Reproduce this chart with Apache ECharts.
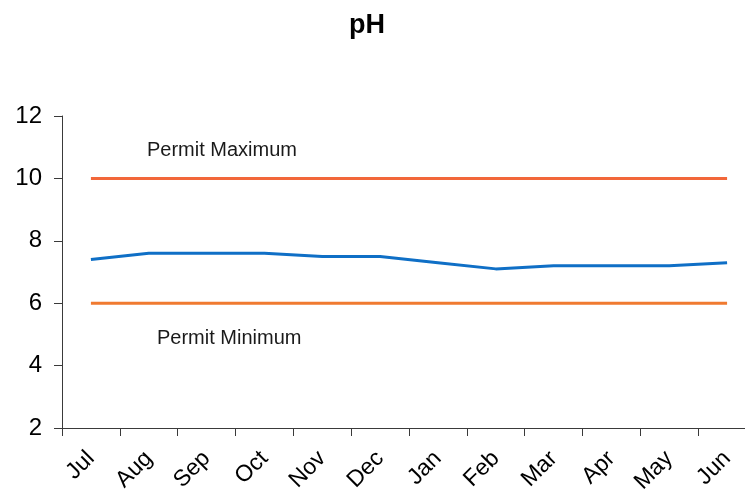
<!DOCTYPE html>
<html>
<head>
<meta charset="utf-8">
<script src="https://cdn.jsdelivr.net/npm/echarts@6/dist/echarts.min.js"></script>
<style>
  html, body { margin: 0; padding: 0; background: #ffffff; overflow: hidden; }
  /* the plot runs slightly past the right edge of the window */
  #chart { width: 757px; height: 498px; }
</style>
</head>
<body>
<div id="chart"></div>
<script>
// Monthly pH readings with permit limits
const months = ['Jul', 'Aug', 'Sep', 'Oct', 'Nov', 'Dec', 'Jan', 'Feb', 'Mar', 'Apr', 'May', 'Jun'];
const phValues = [7.4, 7.6, 7.6, 7.6, 7.5, 7.5, 7.3, 7.1, 7.2, 7.2, 7.2, 7.3];
const permitMax = [10, 10, 10, 10, 10, 10, 10, 10, 10, 10, 10, 10];
const permitMin = [6, 6, 6, 6, 6, 6, 6, 6, 6, 6, 6, 6];
const yTicks = { min: 2, max: 12, interval: 2 };

const FONT = '"Liberation Sans", Arial, sans-serif';
const chart = echarts.init(document.getElementById('chart'), null, { renderer: 'canvas' });

chart.setOption({
  animation: false,
  backgroundColor: '#ffffff',
  title: {
    text: 'pH',
    left: 362,
    top: 7,
    textAlign: 'center',
    textStyle: { fontFamily: FONT, fontSize: 27, fontWeight: 'bold', color: '#000000' }
  },
  grid: { left: 62, top: 116, right: 1, bottom: 70 },
  xAxis: {
    type: 'category',
    data: months,
    boundaryGap: true,
    axisLine: { lineStyle: { color: '#3a3a3a', width: 1 } },
    axisTick: { show: true, length: 8, alignWithLabel: false, lineStyle: { color: '#3a3a3a' } },
    axisLabel: {
      rotate: 45,
      margin: 27,
      fontFamily: FONT,
      fontSize: 23,
      color: '#000000'
    },
    splitLine: { show: false }
  },
  yAxis: {
    type: 'value',
    min: yTicks.min,
    max: yTicks.max,
    interval: yTicks.interval,
    axisLine: { show: true, lineStyle: { color: '#3a3a3a', width: 1 } },
    axisTick: { show: true, length: 8, lineStyle: { color: '#3a3a3a' } },
    axisLabel: { margin: 20, fontFamily: FONT, fontSize: 24, color: '#000000' },
    splitLine: { show: false }
  },
  series: [
    {
      name: 'Permit Maximum',
      type: 'line',
      data: permitMax,
      symbol: 'none',
      lineStyle: { color: '#F2673A', width: 3 }
    },
    {
      name: 'Permit Minimum',
      type: 'line',
      data: permitMin,
      symbol: 'none',
      lineStyle: { color: '#F07A30', width: 3 }
    },
    {
      name: 'pH',
      type: 'line',
      data: phValues,
      symbol: 'none',
      lineStyle: { color: '#0F6FC6', width: 3 }
    }
  ],
  graphic: [
    {
      type: 'text',
      left: 147,
      top: 140,
      style: { text: 'Permit Maximum', font: '20px ' + FONT, fill: '#1a1a1a' }
    },
    {
      type: 'text',
      left: 157,
      top: 328,
      style: { text: 'Permit Minimum', font: '20px ' + FONT, fill: '#1a1a1a' }
    }
  ]
});
</script>
</body>
</html>
